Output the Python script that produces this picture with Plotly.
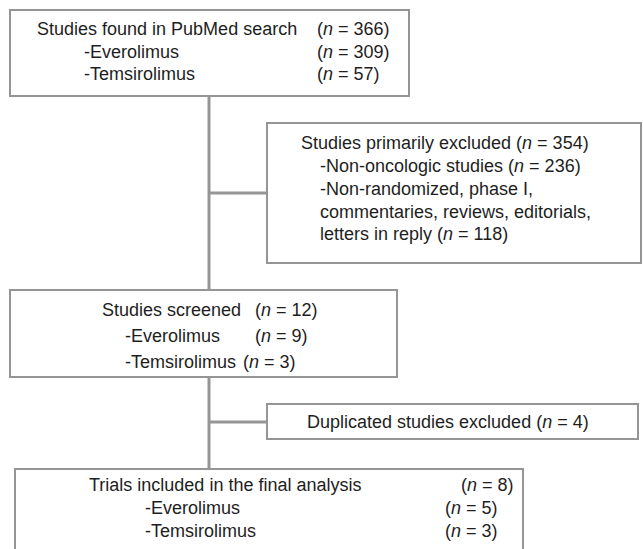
import plotly.graph_objects as go

# ---- data ----
search_labels = ["Studies found in PubMed search", "-Everolimus", "-Temsirolimus"]
search_n = [366, 309, 57]

excluded_labels = ["Studies primarily excluded", "-Non-oncologic studies",
                   "-Non-randomized, phase I,", "commentaries, reviews, editorials,",
                   "letters in reply"]
excluded_n = [354, 236, None, None, 118]

screened_labels = ["Studies screened", "-Everolimus", "-Temsirolimus"]
screened_n = [12, 9, 3]

duplicate_labels = ["Duplicated studies excluded"]
duplicate_n = [4]

final_labels = ["Trials included in the final analysis", "-Everolimus", "-Temsirolimus"]
final_n = [8, 5, 3]


def ntext(v):
    return f"(<i>n</i> = {v})"


W, H = 643, 549
LINE = "#959595"
TXT = "#1e1e1e"
FONT = dict(family="Liberation Sans, Arial, Helvetica, sans-serif", size=18, color=TXT)

fig = go.Figure()
shapes = []
annotations = []


def box(x0, y0, x1, y1):
    shapes.append(dict(type="rect", xref="x", yref="y", x0=x0, y0=y0, x1=x1, y1=y1,
                       line=dict(color=LINE, width=2), fillcolor="white", layer="below"))


def line(x0, y0, x1, y1):
    shapes.append(dict(type="line", xref="x", yref="y", x0=x0, y0=y0, x1=x1, y1=y1,
                       line=dict(color=LINE, width=3), layer="below"))


def text(x, y, s):
    annotations.append(dict(x=x, y=y, xref="x", yref="y", text=s, showarrow=False,
                            xanchor="left", yanchor="middle", font=FONT))


# connectors
line(209, 96, 209, 469)
line(209, 193, 267, 193)
line(209, 422, 267, 422)

# boxes
box(10, 10, 409, 96)
box(267, 123, 641, 263)
box(10, 290, 397, 377)
box(267, 404, 638, 439)
box(15, 469, 523, 570)

# box 1
ys1 = [29, 52, 74]
xs1 = [35, 82, 82]
for lab, v, x, y in zip(search_labels, search_n, xs1, ys1):
    text(x, y, lab)
    text(315, y, ntext(v))

# box 2
ys2 = [143, 166, 189, 212, 234]
xs2 = [299, 318, 318, 318, 318]
for lab, v, x, y in zip(excluded_labels, excluded_n, xs2, ys2):
    text(x, y, lab if v is None else f"{lab} {ntext(v)}")

# box 3
ys3 = [310, 336, 362]
xs3 = [100, 123, 123]
nx3 = [253, 253, 241]
for lab, v, x, y, nx in zip(screened_labels, screened_n, xs3, ys3, nx3):
    text(x, y, lab)
    text(nx, y, ntext(v))

# box 4
for lab, v in zip(duplicate_labels, duplicate_n):
    text(305, 422, f"{lab} {ntext(v)}")

# box 5
ys5 = [485, 508, 531]
xs5 = [87, 143, 143]
nx5 = [459, 443, 443]
for lab, v, x, y, nx in zip(final_labels, final_n, xs5, ys5, nx5):
    text(x, y, lab)
    text(nx, y, ntext(v))

fig.update_layout(
    width=W, height=H,
    margin=dict(l=0, r=0, t=0, b=0),
    paper_bgcolor="white", plot_bgcolor="white",
    xaxis=dict(range=[0, W], visible=False, fixedrange=True),
    yaxis=dict(range=[H, 0], visible=False, fixedrange=True),
    shapes=shapes, annotations=annotations, showlegend=False,
)

fig.write_html("out.html", config=dict(displayModeBar=False),
               post_script="document.body.style.margin='0';")
